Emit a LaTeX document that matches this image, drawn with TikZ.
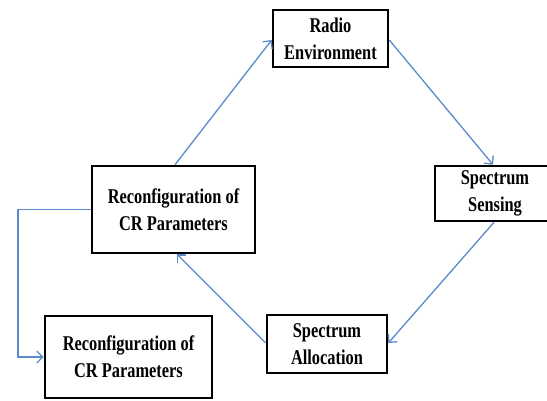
\documentclass[tikz,border=0pt]{standalone}
\usepackage{fontspec}
\setmainfont{Liberation Serif}[FakeStretch=0.78]
\usetikzlibrary{arrows.meta}
\definecolor{arrblue}{HTML}{5B8BCB}
\begin{document}
\begin{tikzpicture}[x=1pt,y=-1pt,
  box/.style={draw=black,line width=2.6pt,rectangle,align=center,inner sep=0pt,
    font=\fontsize{21}{27}\selectfont\bfseries},
  conn/.style={draw=arrblue,line width=1.3pt,-{Straight Barb[length=6pt,width=12pt,line width=1.3pt]}}]
\useasboundingbox (0,0) rectangle (547,400);
\fill[white] (0,0) rectangle (547,400);
\node[box,minimum width=115pt,minimum height=57pt] (re) at (330.5,38.5) {Radio\\Environment};
\node[box,minimum width=120pt,minimum height=55pt] (ss) at (495,193.5) {Spectrum\\Sensing};
\node[box,minimum width=163pt,minimum height=87pt] (rc) at (173.5,209.5) {Reconfiguration of\\CR Parameters};
\node[box,minimum width=167pt,minimum height=82pt] (rb) at (128.5,357) {Reconfiguration of\\CR Parameters};
\node[box,minimum width=120pt,minimum height=58pt] (sa) at (327,344) {Spectrum\\Allocation};
\coordinate (c1) at (18,0);
\draw[conn] (rc.north -| 175,0) -- (re.west |- 0,40);
\draw[conn] (re.east |- 0,40) -- (ss.north -| 493,0);
\draw[conn] (ss.south -| 494,0) -- (sa.east |- 0,343);
\draw[conn] (sa.west |- 0,343) -- (rc.south -| 177,0);
\draw[conn] (rc.west) -- (rc.west -| c1) |- (rb.west);
\end{tikzpicture}
\end{document}
